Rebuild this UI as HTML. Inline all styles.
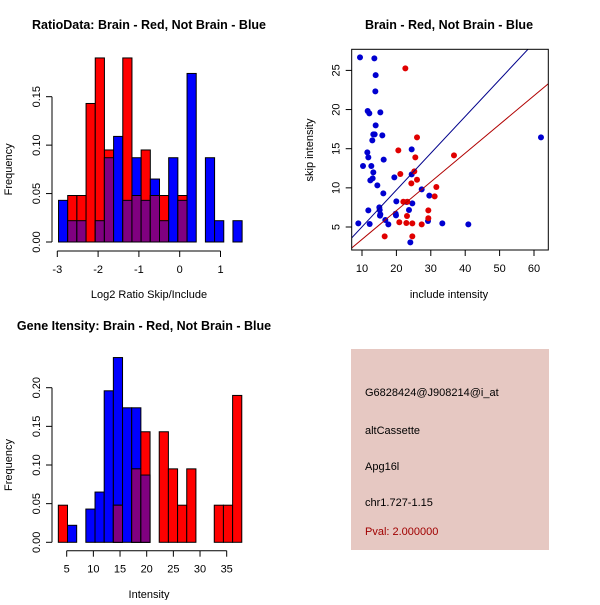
<!DOCTYPE html>
<html><head><meta charset="utf-8"><style>
html,body{margin:0;padding:0;background:#fff;}
svg text{font-family:"Liberation Sans",sans-serif;}
</style></head><body>
<svg id="svg" width="600" height="600" xmlns="http://www.w3.org/2000/svg">
<rect width="600" height="600" fill="#fff"/>
<text x="149" y="29" text-anchor="middle" font-weight="bold" font-size="12.5">RatioData: Brain - Red, Not Brain - Blue</text>
<text x="449" y="29" text-anchor="middle" font-weight="bold" font-size="12.5">Brain - Red, Not Brain - Blue</text>
<text x="144" y="330" text-anchor="middle" font-weight="bold" font-size="12.5">Gene Itensity: Brain - Red, Not Brain - Blue</text>
<g id="h1"></g>
<g id="sc"></g>
<g id="h2"></g>
<g>
<rect x="351" y="349" width="198" height="201" fill="#e6c8c2"/>
<text x="365" y="396" font-size="11">G6828424@J908214@i_at</text>
<text x="365" y="434" font-size="11">altCassette</text>
<text x="365" y="470" font-size="11">Apg16l</text>
<text x="365" y="506" font-size="11">chr1.727-1.15</text>
<text x="365" y="535" font-size="11" fill="#a00000">Pval: 2.000000</text>
</g>
</svg>
<script>
// Ratio histogram data
const ratioBinStart = -2.97, ratioBinWidth = 0.225;
const ratioBlue = [0.043,0.022,0.022,0,0.022,0.087,0.109,0.043,0.087,0.043,0.065,0.022,0.087,0.043,0.174,0,0.087,0.022,0,0.022];
const ratioRed  = [0,0.048,0.048,0.143,0.19,0.095,0,0.19,0.048,0.095,0.048,0.048,0,0.048,0,0,0,0,0,0];
const ratioXTicks = [-3,-2,-1,0,1];
const ratioYTicks = ["0.00","0.05","0.10","0.15"];
// Intensity histogram data
const intBinStart = 3.43, intBinWidth = 1.72;
const intBlue = [0,0.022,0,0.043,0.065,0.196,0.239,0.174,0.174,0.087,0,0,0,0,0,0,0,0,0,0];
const intRed  = [0.048,0,0,0,0,0,0.048,0,0.095,0.143,0,0.143,0.095,0.048,0.095,0,0,0.048,0.048,0.19];
const intXTicks = [5,10,15,20,25,30,35];
const intYTicks = ["0.00","0.05","0.10","0.15","0.20"];
// Scatter data
const blueInclude = [9.42,13.59,13.97,13.88,11.65,12.13,15.33,13.97,13.29,13.68,13.00,15.91,11.55,11.84,10.29,12.71,13.29,13.10,12.42,14.46,16.20,15.04,15.14,15.33,15.23,11.84,12.23,8.93,16.78,17.66,16.30,19.40,19.98,19.79,19.88,22.98,24.44,24.44,24.63,23.66,27.35,29.57,29.19,33.35,40.91,24.05,62.03];
const blueSkip = [26.66,26.53,24.40,22.32,19.81,19.51,19.64,17.98,16.83,16.83,16.06,16.70,14.53,13.89,12.79,12.79,11.98,11.21,10.96,10.32,9.30,7.51,7.17,6.62,6.45,7.13,5.38,5.47,5.89,5.34,13.60,11.34,8.28,6.70,6.49,8.19,14.91,11.72,8.02,7.17,9.81,9.00,5.77,5.47,5.34,3.04,16.45];
const redInclude = [22.60,20.56,25.99,25.50,21.14,25.21,25.99,24.34,31.61,31.12,36.74,22.02,23.18,20.85,22.89,24.63,23.08,29.28,29.28,27.35,16.59,24.63];
const redSkip = [25.26,14.79,16.45,13.89,11.77,12.11,11.04,10.57,10.11,8.91,14.15,8.23,8.23,5.60,5.51,5.47,6.40,7.13,6.11,5.34,3.81,3.81];
const blueFit = [0.32,0.47];
const redFit = [-0.25,0.367];
const scXTicks = [10,20,30,40,50,60];
const scYTicks = [5,10,15,20,25];

const NS="http://www.w3.org/2000/svg";
function mk(parent,tag,attrs,txt){const e=document.createElementNS(NS,tag);for(const k in attrs)e.setAttribute(k,attrs[k]);if(txt!==undefined)e.textContent=txt;parent.appendChild(e);return e;}

function hist(g,start,w,blue,red,xs,ys,xTicks,yTicks,xAxisY,xlabel,xlabY){
  for(let i=0;i<blue.length;i++){
    const x0=xs(start+i*w), x1=xs(start+(i+1)*w);
    const b=blue[i], r=red[i];
    if(b>0){const e=mk(g,'rect',{x:x0,y:ys(b),width:x1-x0,height:ys(0)-ys(b),fill:'#0000ff',stroke:'#000','stroke-width':1});
      
      }
    if(r>0){const e=mk(g,'rect',{x:x0,y:ys(r),width:x1-x0,height:ys(0)-ys(r),fill:'#ff0000',stroke:'#000','stroke-width':1});
      
      }
    if(b>0&&r>0){const m=Math.min(b,r);const e=mk(g,'rect',{x:x0,y:ys(m),width:x1-x0,height:ys(0)-ys(m),fill:'#800080',stroke:'#000','stroke-width':1});
      
      }
  }
  const yl=52;
  const yv=yTicks.map(Number);
  mk(g,'line',{x1:yl,x2:yl,y1:ys(yv[0]),y2:ys(yv[yv.length-1]),stroke:'#000'});
  yTicks.forEach(t=>{const y=ys(Number(t));mk(g,'line',{x1:yl-6,x2:yl,y1:y,y2:y,stroke:'#000'});
    const tx=mk(g,'text',{x:yl-12,y:y,'font-size':11,'text-anchor':'middle',transform:`rotate(-90 ${yl-12} ${y})`},t);
    
    });
  mk(g,'line',{x1:xs(xTicks[0]),x2:xs(xTicks[xTicks.length-1]),y1:xAxisY,y2:xAxisY,stroke:'#000'});
  xTicks.forEach(t=>{const x=xs(t);mk(g,'line',{x1:x,x2:x,y1:xAxisY,y2:xAxisY+6,stroke:'#000'});
    const tx=mk(g,'text',{x:x,y:xAxisY+22,'font-size':11,'text-anchor':'middle'},String(t));
    
    });
  const xl=mk(g,'text',{x:149,y:xlabY,'font-size':11,'text-anchor':'middle'},xlabel);
  
  
  const cy=(ys(0)+ys(yv[yv.length-1]))/2;
  const ylb=mk(g,'text',{x:12,y:cy,'font-size':11,'text-anchor':'middle',transform:`rotate(-90 12 ${cy})`},'Frequency');
  
  
}

const rx=v=>57.3+(v+3)*40.8, ry=v=>242-v*968.7;
hist(document.getElementById('h1'),ratioBinStart,ratioBinWidth,ratioBlue,ratioRed,rx,ry,ratioXTicks,ratioYTicks,251,'Log2 Ratio Skip/Include',298);
const ix=v=>66.7+(v-5)*5.333, iy=v=>542.3-v*773;
hist(document.getElementById('h2'),intBinStart,intBinWidth,intBlue,intRed,ix,iy,intXTicks,intYTicks,550.7,'Intensity',598);

const sg=document.getElementById('sc');
const sx=v=>362+(v-10)*3.44, sy=v=>227-(v-5)*7.83;
const L=351.7,R=548.3,T=49.3,B=250;
const cp=mk(sg,'clipPath',{id:'clp'});mk(cp,'rect',{x:L,y:T,width:R-L,height:B-T});
function fitLine(f,col,name){
  const xa=(L-362)/3.44+10, xb=(R-362)/3.44+10;
  const e=mk(sg,'line',{x1:sx(xa),y1:sy(f[0]+f[1]*xa),x2:sx(xb),y2:sy(f[0]+f[1]*xb),stroke:col,'stroke-width':1,'clip-path':'url(#clp)'});
  
  
}
blueInclude.forEach((v,i)=>{const c=mk(sg,'circle',{cx:sx(v),cy:sy(blueSkip[i]),r:3,fill:'#0000d0'});
  
  });
redInclude.forEach((v,i)=>{const c=mk(sg,'circle',{cx:sx(v),cy:sy(redSkip[i]),r:3,fill:'#e00000'});
  
  });
fitLine(blueFit,'#00008b','blue-fit-line');
fitLine(redFit,'#b00000','red-fit-line');
mk(sg,'rect',{x:L,y:T,width:R-L,height:B-T,fill:'none',stroke:'#000'});
scXTicks.forEach(t=>{const x=sx(t);mk(sg,'line',{x1:x,x2:x,y1:B,y2:B+6,stroke:'#000'});
  const tx=mk(sg,'text',{x:x,y:B+22,'font-size':11,'text-anchor':'middle'},String(t));
  
  });
scYTicks.forEach(t=>{const y=sy(t);mk(sg,'line',{x1:L-6,x2:L,y1:y,y2:y,stroke:'#000'});
  const tx=mk(sg,'text',{x:L-12,y:y,'font-size':11,'text-anchor':'middle',transform:`rotate(-90 ${L-12} ${y})`},String(t));
  
  });
const sxl=mk(sg,'text',{x:449,y:298,'font-size':11,'text-anchor':'middle'},'include intensity');


const syl=mk(sg,'text',{x:313,y:150,'font-size':11,'text-anchor':'middle',transform:'rotate(-90 313 150)'},'skip intensity');


</script>
</body></html>
